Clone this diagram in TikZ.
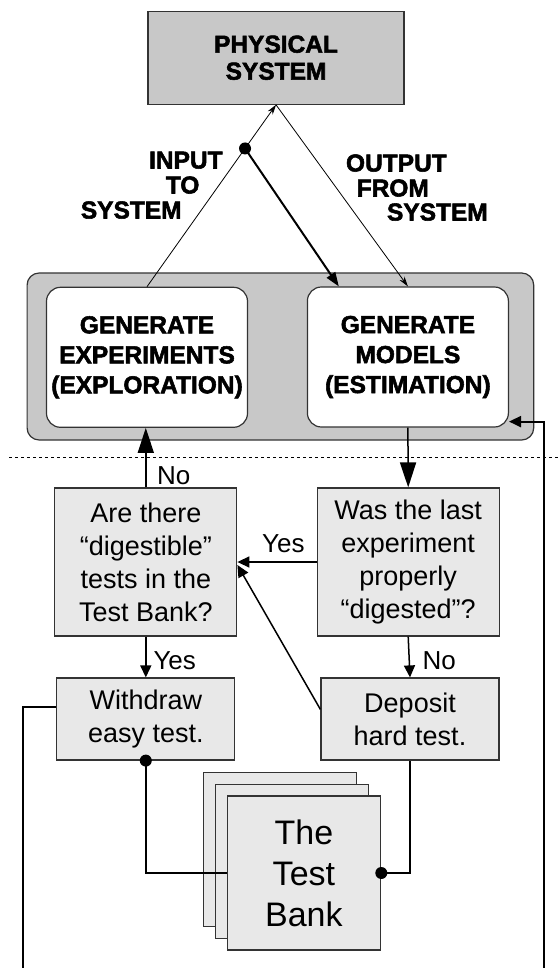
\documentclass[tikz,border=0pt]{standalone}
\usepackage{fontspec}
\setmainfont{Liberation Sans}
\newfontfamily\heavyfont[FakeBold=2.2]{Liberation Sans Bold}
\usetikzlibrary{calc,arrows.meta}
\definecolor{sysgray}{HTML}{C8C8C8}
\definecolor{boxgray}{HTML}{E8E8E8}
\definecolor{edge}{HTML}{333333}
\tikzset{
  sysbox/.style={draw=edge, fill=sysgray, line width=1.2pt, inner sep=0pt, align=center,
    font=\heavyfont\fontsize{24.5}{27}\selectfont},
  ctrlbox/.style={draw=edge, fill=sysgray, line width=1.2pt, rounded corners=12pt, inner sep=0pt},
  genbox/.style={draw=edge, fill=white, line width=1.2pt, rounded corners=14pt, inner sep=0pt,
    minimum width=201pt, minimum height=140pt, align=center,
    font=\heavyfont\fontsize{24.5}{30}\selectfont},
  qbox/.style={draw=edge, fill=boxgray, line width=1.2pt, inner sep=0pt,
    minimum width=182pt, minimum height=148pt, align=center, font=\fontsize{27}{33}\selectfont},
  actbox/.style={qbox, minimum width=178pt, minimum height=82pt},
  bankbox/.style={qbox, minimum width=153.6pt, minimum height=154pt, font=\fontsize{34}{41}\selectfont},
  heavy/.style={inner sep=0pt, font=\heavyfont\fontsize{24.5}{27}\selectfont},
  lab/.style={inner sep=0pt, font=\fontsize{26}{30}\selectfont},
  dot/.style={circle, fill=black, inner sep=0pt, minimum size=12pt},
  thinline/.style={draw=black, line width=0.8pt},
  thickarrow/.style={draw=black, line width=2pt},
  flow/.style={draw=black, line width=1.5pt},
  bus/.style={draw=black, line width=2pt},
  smalltip/.style={-{Stealth[length=10pt,width=6pt]}},
  midtip/.style={-{Triangle[length=12pt,width=11pt]}},
  bigtip/.style={-{Triangle[length=25pt,width=16pt]}}
}
\begin{document}
\begin{tikzpicture}[x=1pt, y=-1pt]
  \useasboundingbox (0,0) rectangle (559,968);

  \node[sysbox, minimum width=256pt, minimum height=93pt] (phys) at (276,57.7) {PHYSICAL\\SYSTEM};
  \node[ctrlbox, minimum width=506.6pt, minimum height=167pt] (ctrl) at (280.4,356.5) {};
  \node[genbox] (expl) at (147,357.3) {GENERATE\\EXPERIMENTS\\(EXPLORATION)};
  \node[genbox] (estm) at (407.9,357) {GENERATE\\MODELS\\(ESTIMATION)};

  \node[heavy, anchor=base east] (in1) at (222.8,168.5) {INPUT};
  \node[heavy, anchor=base east] (in2) at (199.6,193.5) {TO};
  \node[heavy, anchor=base east] (in3) at (181.8,218.5) {SYSTEM};
  \node[heavy, anchor=base west] (out1) at (345.8,171.5) {OUTPUT};
  \node[heavy, anchor=base west] (out2) at (356.5,196.5) {FROM};
  \node[heavy, anchor=base west] (out3) at (386.8,220.5) {SYSTEM};

  \draw[dashed, dash pattern=on 3pt off 3pt, line width=0.7pt] (9,457) -- (559,457);

  \node[qbox] (askbank) at (145.8,562) {Are there\\“digestible”\\tests in the\\Test Bank?};
  \node[qbox] (askdone) at (408.2,562) {Was the last\\experiment\\properly\\“digested”?};
  \node[actbox] (wd) at (145.8,719) {Withdraw\\easy test.};
  \node[actbox] (dep) at (410,719) {Deposit\\hard test.};
  \node[bankbox] (bank3) at (279.9,849.7) {};
  \node[bankbox] (bank2) at (292,861.3) {};
  \node[bankbox] (bank) at (303.9,873) {The\\Test\\Bank};

  \node[lab, anchor=base west] (no1) at (156.9,484) {No};
  \node[lab, anchor=base west] (yes1) at (262,552) {Yes};
  \node[lab, anchor=base west] (yes2) at (153.3,669) {Yes};
  \node[lab, anchor=base west] (no2) at (422.5,669) {No};

  \coordinate (tap) at ($(expl.north)!0.76!(phys.south)$);
  \coordinate (lfoot) at (22.5,968);
  \coordinate (rfoot) at (544.4,968);

  % experiment and measurement paths
  \draw[thinline, smalltip] (expl.north) -- (phys.south);
  \draw[thinline, smalltip] (phys.south) -- (estm.north);
  \draw[thickarrow, -{Triangle[length=14pt,width=10pt]}] (tap) -- ($(estm.north west)+(32,0)$);
  \node[dot] (tapdot) at (tap) {};

  % decision flow
  \draw[flow, bigtip] (estm.south) -- (askdone.north);
  \draw[flow, bigtip] (askbank.north) -- (askbank.north |- expl.south);
  \draw[flow, midtip] (askdone.west) -- (askbank.east);
  \draw[flow, midtip] ($(dep.north west)+(0,32)$) -- ($(askbank.east)+(0,3)$);
  \draw[flow, midtip] (askbank.south) -- (wd.north);
  \draw[flow, midtip] (askdone.south) -- (dep.north);

  % test bank links
  \draw[flow] (wd.south) |- (bank.west);
  \draw[flow] (bank.east) -| (dep.south);
  \node[dot] (wddot) at (wd.south) {};
  \node[dot] (bankdot) at (bank.east) {};

  \draw[bus] ($(wd.north west)+(0,30)$) -| (lfoot);
  \draw[bus, midtip] (rfoot) |- ($(estm.south east)+(0,-6)$);
\end{tikzpicture}
\end{document}
